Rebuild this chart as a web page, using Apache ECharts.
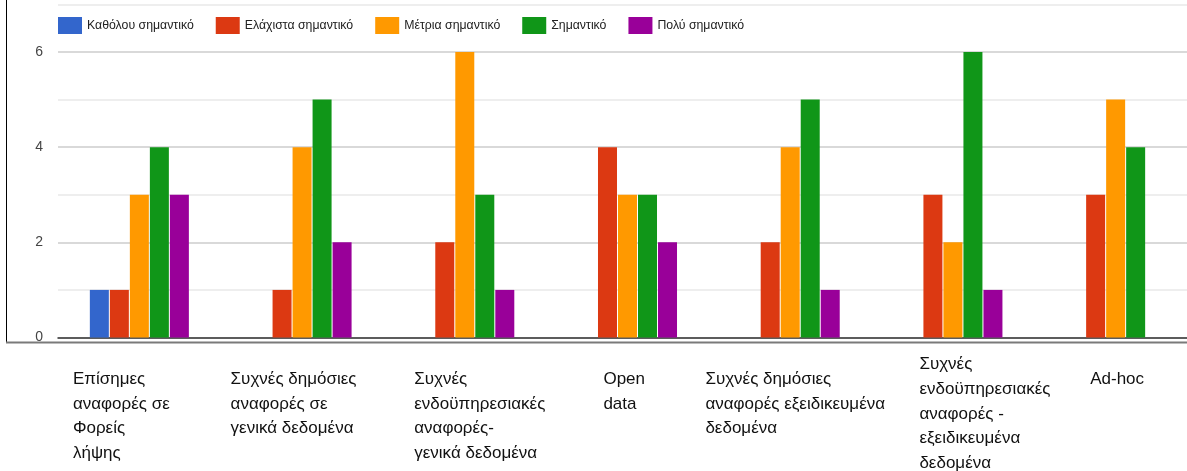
<!DOCTYPE html>
<html>
<head>
<meta charset="utf-8">
<script src="https://cdn.jsdelivr.net/npm/echarts@6/dist/echarts.min.js"></script>
<style>
html,body{margin:0;padding:0;background:#fff;}
#chart{width:1187px;height:471px;}
</style>
</head>
<body>
<div id="chart"></div>
<script>
const categories = [
  "Επίσημες\nαναφορές σε\nΦορείς\nλήψης",
  "Συχνές δημόσιες\nαναφορές σε\nγενικά δεδομένα",
  "Συχνές\nενδοϋπηρεσιακές\nαναφορές-\nγενικά δεδομένα",
  "Open\ndata",
  "Συχνές δημόσιες\nαναφορές εξειδικευμένα\nδεδομένα",
  "Συχνές\nενδοϋπηρεσιακές\nαναφορές -\nεξειδικευμένα\nδεδομένα",
  "Ad-hoc"
];
const seriesNames = ["Καθόλου σημαντικό", "Ελάχιστα σημαντικό", "Μέτρια σημαντικό", "Σημαντικό", "Πολύ σημαντικό"];
const katholou = [1, 0, 0, 0, 0, 0, 0];
const elaxista = [1, 1, 2, 4, 2, 3, 3];
const metria   = [3, 4, 6, 3, 4, 2, 5];
const simantiko = [4, 5, 3, 3, 5, 6, 4];
const poly     = [3, 2, 1, 2, 1, 1, 0];
const yTicks = [0, 2, 4, 6];

// layout only: horizontal nudge of each category label block (px)
const labelShift = [-18, -8.5, 15, -3.3, 5, 32, 1.5];

const colors = ["#3366cc", "#dc3912", "#ff9900", "#109618", "#990099"];
const values = [katholou, elaxista, metria, simantiko, poly];

const catItems = categories.map((c, i) => {
  const s = labelShift[i];
  return {value: c, textStyle: {padding: s >= 0 ? [0, 0, 0, 2 * s] : [0, -2 * s, 0, 0]}};
});

const chart = echarts.init(document.getElementById('chart'), null, {renderer: 'canvas'});
const FONT = "'Liberation Sans', Arial, sans-serif";
chart.setOption({
  animation: false,
  color: colors,
  legend: {
    left: 58, top: 17, padding: 0,
    itemWidth: 24, itemHeight: 17, itemGap: 22,
    icon: 'rect',
    textStyle: {fontFamily: FONT, fontSize: 12.3, color: '#222'},
    data: seriesNames
  },
  grid: {left: 58, top: 4.4, right: -10, bottom: 133.5, containLabel: false, outerBoundsMode: 'none'},
  xAxis: {
    type: 'category',
    data: catItems,
    axisLine: {show: true, lineStyle: {color: '#333', width: 1.5}},
    axisTick: {show: false},
    axisLabel: {
      interval: 0, margin: 15, hideOverlap: false,
      formatter: function (v) {
        const lines = v.split('\n');
        const body = lines.map(l => '{a|' + l + '}').join('\n');
        return lines.length >= 5 ? body : '{s| }\n' + body;
      },
      rich: {
        a: {fontFamily: FONT, fontSize: 17, lineHeight: 24.6, color: '#111', align: 'left'},
        s: {fontSize: 8, lineHeight: 14.5, align: 'left'}
      }
    }
  },
  yAxis: {
    type: 'value', min: 0, max: 7, interval: 1,
    axisLine: {show: false}, axisTick: {show: false},
    axisLabel: {
      margin: 15, fontFamily: FONT, fontSize: 14, color: '#444',
      formatter: function (v) { return yTicks.indexOf(v) >= 0 ? String(v) : ''; }
    },
    splitLine: {show: true, lineStyle: {color: ['#cccccc', '#e8e8e8'], width: 1.5}}
  },
  series: seriesNames.map((n, i) => ({
    name: n, type: 'bar', data: values[i],
    barWidth: 19, barGap: '5.3%',
    itemStyle: {color: colors[i]}
  })),
  graphic: [
    {type: 'line', z: 100, shape: {x1: 6.5, y1: 0, x2: 6.5, y2: 343}, style: {stroke: '#000', lineWidth: 1}},
    {type: 'line', z: 100, shape: {x1: 6, y1: 342.5, x2: 1187, y2: 342.5}, style: {stroke: '#7a7a7a', lineWidth: 2}}
  ]
});
</script>
</body>
</html>
